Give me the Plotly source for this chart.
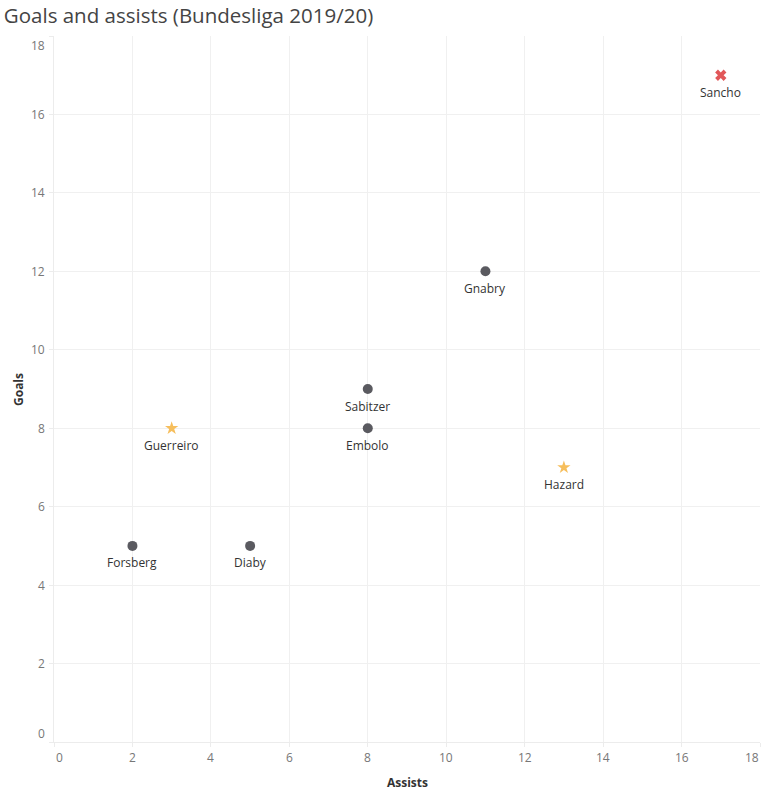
import plotly.graph_objects as go

players = ["Sancho", "Gnabry", "Sabitzer", "Embolo", "Guerreiro", "Hazard", "Forsberg", "Diaby"]
assists = [17, 11, 8, 8, 3, 13, 2, 5]
goals = [17, 12, 9, 8, 8, 7, 5, 5]
groups = ["x", "circle", "circle", "circle", "star", "star", "circle", "circle"]

tick_vals = [0, 2, 4, 6, 8, 10, 12, 14, 16, 18]
tick_text = [str(v) for v in tick_vals]

styles = {
    "circle": dict(symbol="circle", color="#5a5a60", size=10),
    "star": dict(symbol="star", color="#f6be5c", size=10),
    "x": dict(symbol="x", color="#e15759", size=10),
}

FONT = "Open Sans, sans-serif"

fig = go.Figure()
for g in ["circle", "star", "x"]:
    idx = [i for i, v in enumerate(groups) if v == g]
    st = styles[g]
    fig.add_trace(go.Scatter(
        x=[assists[i] for i in idx],
        y=[goals[i] for i in idx],
        mode="markers",
        marker=dict(symbol=st["symbol"], color=st["color"], size=st["size"], line=dict(width=0)),
        showlegend=False,
        hoverinfo="skip",
    ))

for name, xv, yv in zip(players, assists, goals):
    fig.add_annotation(
        x=xv, y=yv, text=name, showarrow=False,
        xanchor="center", yanchor="middle", yshift=-17,
        font=dict(family=FONT, size=12, color="#333333"),
    )

# Tick labels (Tableau-style: end labels nudged inward)
n = len(tick_vals)
for i, (v, t) in enumerate(zip(tick_vals, tick_text)):
    xs = 5 if i == 0 else (-8 if i == n - 1 else 0)
    fig.add_annotation(
        x=v, y=0, xref="x", yref="paper", text=t, showarrow=False,
        xanchor="center", yanchor="middle", xshift=xs, yshift=-15,
        font=dict(family=FONT, size=12, color="#777777"),
    )
    ys = 9 if i == 0 else (-9 if i == n - 1 else 0)
    fig.add_annotation(
        x=0, y=v, xref="paper", yref="y", text=t, showarrow=False,
        xanchor="right", yanchor="middle", xshift=-7, yshift=ys,
        font=dict(family=FONT, size=12, color="#777777"),
    )

fig.add_annotation(
    xref="paper", yref="paper", x=-0.051, y=0.5, text="<b>Goals</b>",
    textangle=-90, showarrow=False, xanchor="center", yanchor="middle",
    font=dict(family=FONT, size=12, color="#333333"),
)

axis_common = dict(
    range=[0, 18],
    tickvals=tick_vals,
    showticklabels=False,
    showgrid=True,
    gridcolor="#f0f0f0",
    gridwidth=1,
    zeroline=False,
    showline=True,
    linecolor="#ececec",
    ticks="outside",
    ticklen=4,
    tickcolor="#ececec",
    automargin=False,
    title_font=dict(family=FONT, size=12, color="#333333"),
    fixedrange=True,
)

fig.update_layout(
    width=767, height=795,
    margin=dict(l=54, r=7, t=36, b=53),
    paper_bgcolor="white",
    plot_bgcolor="white",
    title=dict(
        text="Goals and assists (Bundesliga 2019/20)",
        x=0.005, xanchor="left", y=0.980, yanchor="middle",
        font=dict(family=FONT, size=20.5, color="#444444"),
    ),
    xaxis=dict(axis_common),
    yaxis=dict(axis_common),
)

fig.add_annotation(
    xref="paper", yref="paper", x=0.5, y=0, text="<b>Assists</b>",
    showarrow=False, xanchor="center", yanchor="middle", yshift=-40,
    font=dict(family=FONT, size=12, color="#333333"),
)

fig.write_html("out.html")
